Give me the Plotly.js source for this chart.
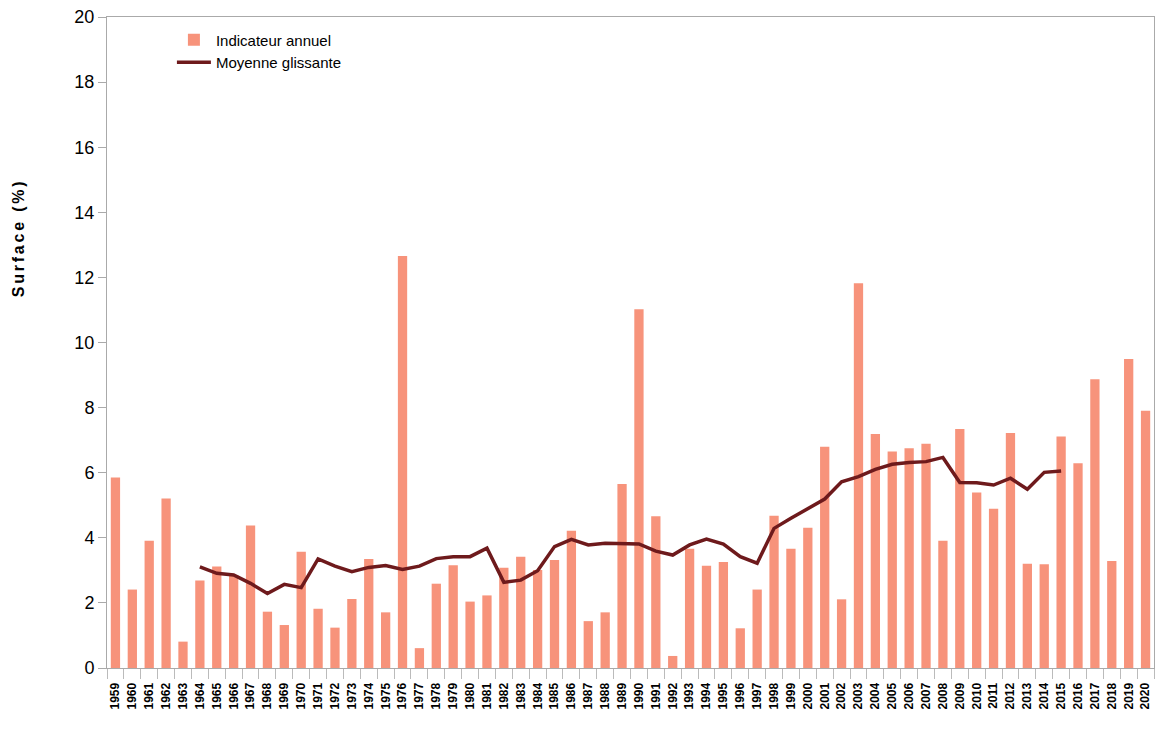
<!DOCTYPE html>
<html>
<head>
<meta charset="utf-8">
<script src="https://cdn.plot.ly/plotly-3.0.1.min.js"></script>
<style>
  body { margin: 0; background: #fff; }
  #chart { width: 1155px; height: 749px; }
  .annotation-text { letter-spacing: 2.8px; }
</style>
</head>
<body>
<div id="chart"></div>
<script>
// années 1959 -> 2020
const years = [];
for (let y = 1959; y <= 2020; y++) years.push(String(y));

// indicateur annuel (surface en %)
const annual = [
  5.85, 2.41, 3.91, 5.21, 0.81, 2.69, 3.12, 2.86, 4.38, 1.73,
  1.32, 3.57, 1.82, 1.24, 2.12, 3.35, 1.71, 12.66, 0.61, 2.59,
  3.16, 2.04, 2.23, 3.08, 3.42, 3.01, 3.32, 4.22, 1.44, 1.71,
  5.65, 11.02, 4.66, 0.37, 3.66, 3.14, 3.26, 1.22, 2.41, 4.68,
  3.66, 4.31, 6.80, 2.11, 11.82, 7.19, 6.65, 6.75, 6.89, 3.91,
  7.34, 5.39, 4.89, 7.22, 3.20, 3.19, 7.11, 6.29, 8.87, 3.29,
  9.49, 7.90
];

// moyenne glissante, 1964 -> 2015
const avgYears = years.slice(5, 57);
const movingAvg = [
  3.11, 2.91, 2.86, 2.60, 2.29, 2.57, 2.47, 3.35, 3.13, 2.96,
  3.09, 3.15, 3.03, 3.13, 3.36, 3.42, 3.42, 3.68, 2.63, 2.70,
  2.99, 3.73, 3.95, 3.78, 3.83, 3.81, 3.81, 3.59, 3.47, 3.78,
  3.96, 3.81, 3.42, 3.22, 4.29, 4.60, 4.88, 5.19, 5.72, 5.88,
  6.10, 6.26, 6.31, 6.34, 6.47, 5.70, 5.69, 5.62, 5.83, 5.49,
  6.01, 6.05
];

const yTicks = [0, 2, 4, 6, 8, 10, 12, 14, 16, 18, 20];

const font = 'Liberation Sans Narrow, Liberation Sans, Arial, sans-serif';

const data = [
  {
    x: years,
    y: annual,
    type: 'bar',
    name: 'Indicateur annuel',
    marker: { color: '#F7937B' }
  },
  {
    x: avgYears,
    y: movingAvg,
    type: 'scatter',
    mode: 'lines',
    name: 'Moyenne glissante',
    line: { color: '#6E1A1C', width: 3.5 }
  }
];

const layout = {
  width: 1155,
  height: 749,
  margin: { l: 107, r: 1, t: 17, b: 81 },
  paper_bgcolor: '#fff',
  plot_bgcolor: '#fff',
  bargap: 0.45,
  showlegend: true,
  legend: {
    x: 0.062, y: 0.99, xanchor: 'left', yanchor: 'top',
    font: { family: font, size: 15, color: '#000' },
    tracegroupgap: 0,
    itemwidth: 34
  },
  xaxis: {
    type: 'category',
    categoryarray: years,
    tickangle: -90,
    tickfont: { family: 'Liberation Sans, Arial, sans-serif', size: 12, color: '#000', weight: 'bold' },
    ticks: 'outside',
    tickson: 'boundaries',
    ticklen: 10,
    ticklabelstandoff: 9,
    tickcolor: '#bbb',
    showline: true,
    linecolor: '#aaa',
    mirror: true,
    showgrid: false,
    range: [-0.5, 61.5]
  },
  yaxis: {
    range: [0, 20],
    tickvals: yTicks,
    tickfont: { family: font, size: 18, color: '#000' },
    ticks: 'outside',
    ticklen: 8,
    tickcolor: '#aaa',
    showline: true,
    linecolor: '#aaa',
    mirror: true,
    showgrid: false,
    zeroline: false
  },
  // titre de l'axe y, placé plus haut que le centre comme dans l'original
  annotations: [{
    text: '<b>Surface (%)</b>',
    xref: 'paper', yref: 'paper',
    x: -0.085, y: 0.66,
    xanchor: 'center', yanchor: 'middle',
    textangle: -90,
    showarrow: false,
    font: { family: 'Liberation Sans, Arial, sans-serif', size: 16, color: '#000' }
  }]
};

Plotly.newPlot('chart', data, layout, { displayModeBar: false, staticPlot: true });
</script>
</body>
</html>
